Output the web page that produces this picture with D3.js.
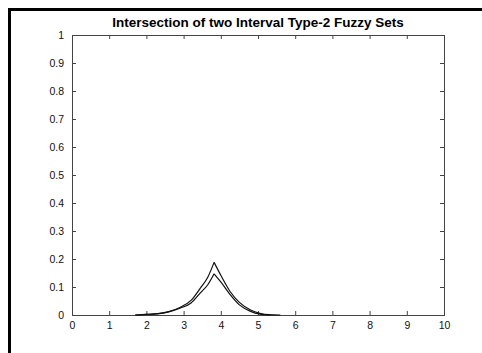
<!DOCTYPE html>
<html>
<head>
<meta charset="utf-8">
<script src="https://cdn.jsdelivr.net/npm/d3@7"></script>
<style>
  body { margin: 0; background: #fff; }
  text { font-family: "Liberation Sans", Arial, sans-serif; }
</style>
</head>
<body>
<div id="vizArea"></div>
<script>
const upperX = [1.7, 2.0, 2.3, 2.6, 2.9, 3.2, 3.45, 3.65, 3.82, 4.0, 4.25, 4.5, 4.8, 5.05, 5.3, 5.6];
const upperY = [0, 0.002, 0.005, 0.012, 0.027, 0.052, 0.096, 0.135, 0.188, 0.142, 0.084, 0.045, 0.018, 0.006, 0.001, 0];
const lowerX = [1.7, 2.0, 2.3, 2.6, 2.9, 3.2, 3.45, 3.65, 3.82, 4.0, 4.25, 4.5, 4.8, 5.05, 5.3];
const lowerY = [0, 0.002, 0.004, 0.011, 0.024, 0.043, 0.079, 0.108, 0.147, 0.118, 0.073, 0.036, 0.013, 0.003, 0];
const peakX = 3.82;
const xTicks = [0, 1, 2, 3, 4, 5, 6, 7, 8, 9, 10];
const yTicks = [0, 0.1, 0.2, 0.3, 0.4, 0.5, 0.6, 0.7, 0.8, 0.9, 1];
const title = "Intersection of two Interval Type-2 Fuzzy Sets";

const W = 482, H = 353;
const margin = {top: 35, right: 38, bottom: 38, left: 72},
    width = W - margin.left - margin.right,
    height = H - margin.top - margin.bottom;

const root = d3.select("#vizArea")
    .append("svg")
    .attr("width", W)
    .attr("height", H);

// black frame (only top and left show)
root.append("rect")
    .attr("x", 9.5).attr("y", 9.5)
    .attr("width", W + 10).attr("height", H + 10)
    .attr("fill", "none")
    .attr("stroke", "#000")
    .attr("stroke-width", 3);

const svg = root.append("g")
    .attr("transform", "translate(" + margin.left + "," + margin.top + ")");

const x = d3.scaleLinear().domain([0, 10]).range([0, width]);
const y = d3.scaleLinear().domain([0, 1]).range([height, 0]);

const axisColor = "#444";

function styleAxis(g) {
    g.select(".domain").remove();
    g.selectAll("line").attr("stroke", axisColor);
    g.selectAll("text")
        .attr("fill", "#111")
        .style("font-size", "10.5px");
}

// labels bottom / left, inward ticks on all four sides
svg.append("g")
    .attr("transform", `translate(0,${height})`)
    .call(d3.axisBottom(x).tickValues(xTicks).tickSize(-4).tickPadding(7).tickFormat(String))
    .call(styleAxis);
svg.append("g")
    .call(d3.axisTop(x).tickValues(xTicks).tickSize(-4).tickFormat(""))
    .call(styleAxis);
svg.append("g")
    .call(d3.axisLeft(y).tickValues(yTicks).tickSize(-4).tickPadding(8).tickFormat(String))
    .call(styleAxis);
svg.append("g")
    .attr("transform", `translate(${width},0)`)
    .call(d3.axisRight(y).tickValues(yTicks).tickSize(-4).tickFormat(""))
    .call(styleAxis);

svg.append("rect")
    .attr("x", 0.5).attr("y", 0.5)
    .attr("width", width).attr("height", height)
    .attr("fill", "none")
    .attr("stroke", axisColor)
    .attr("stroke-width", 1);

const line = d3.line()
    .x(d => x(d[0]))
    .y(d => y(d[1]))
    .curve(d3.curveMonotoneX);

// each curve drawn as two smooth halves so the peak stays a cusp
function drawCurve(xs, ys) {
    const pts = xs.map((v, i) => [v, ys[i]]);
    const left = pts.filter(d => d[0] <= peakX);
    const right = pts.filter(d => d[0] >= peakX);
    [left, right].forEach(part => {
        svg.append("path")
            .datum(part)
            .attr("fill", "none")
            .attr("stroke", "#111")
            .attr("stroke-width", 1.2)
            .attr("d", line);
    });
}
drawCurve(upperX, upperY);
drawCurve(lowerX, lowerY);

root.append("text")
    .attr("x", margin.left + width / 2)
    .attr("y", 27)
    .attr("text-anchor", "middle")
    .style("font-size", "13.5px")
    .style("font-weight", "bold")
    .text(title);
</script>
</body>
</html>
